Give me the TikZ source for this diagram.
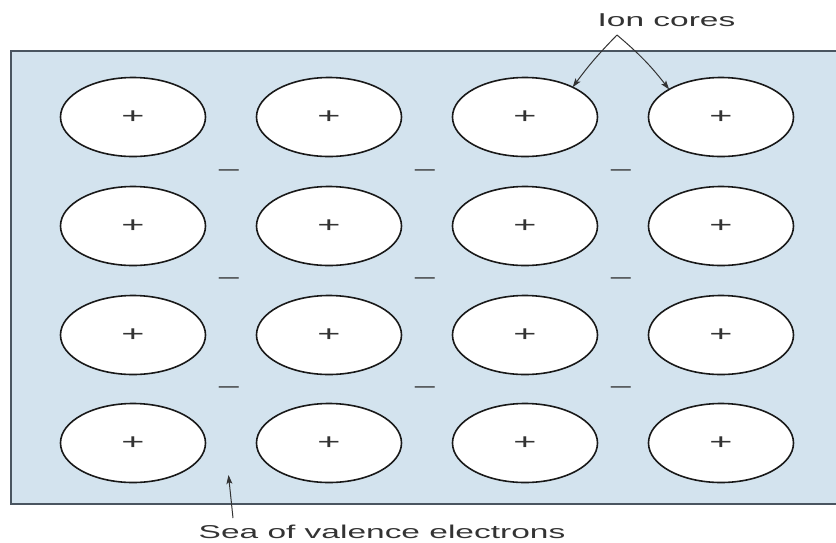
\documentclass[tikz,border=0pt]{standalone}
\usepackage{fontspec}
\usepackage{graphicx}
\setmainfont{Liberation Sans}
\usetikzlibrary{shapes.geometric,arrows.meta}
\definecolor{seablue}{HTML}{D3E3EE}
\definecolor{rimgray}{HTML}{4A5560}
\definecolor{txtgray}{HTML}{333333}
\tikzset{
  core/.style={ellipse,draw=black!90,line width=1.6pt,fill=white,
    minimum width=145pt,minimum height=79pt,inner sep=0pt,outer sep=0pt,
    font=\fontsize{22}{22}\selectfont,text=txtgray},
  minus/.style={inner sep=0pt,font=\fontsize{20}{20}\selectfont,text=txtgray},
  label/.style={inner sep=0pt,anchor=base,font=\fontsize{18.6}{20}\selectfont,text=txtgray},
  pointer/.style={draw=txtgray,line width=1pt,-{Stealth[length=9pt,width=6pt,inset=2pt]}}
}
\newcommand{\wide}[1]{\scalebox{1.8}[1]{#1}}
\begin{document}
\begin{tikzpicture}[x=1pt,y=-1pt]
\useasboundingbox (0,0) rectangle (836,542);
\fill[white] (0,0) rectangle (836,542);
\fill[seablue] (11,50.5) rectangle (845,503.5);
\draw[rimgray,line width=2pt] (845,50.5) -- (11,50.5) -- (11,503.5) -- (845,503.5);
% ion cores
\foreach \r/\yy in {1/117,2/226,3/335,4/443}{
  \foreach \c/\xx in {1/133,2/329,3/525,4/721}{
    \node[core] (c\r\c) at (\xx,\yy) {\wide{+}};
  }
}
% electrons
\foreach \r/\yy in {1/172.5,2/281,3/390}{
  \foreach \c/\xx in {1/229,2/425,3/621}{
    \node[minus] (m\r\c) at (\xx,\yy) {\wide{–}};
  }
}
% labels
\node[label] (ion) at (666.5,26) {\wide{Ion cores}};
\coordinate (apex) at (617,35);
\draw[pointer] (apex) to[bend right=4] (c13.32);
\draw[pointer] (apex) to[bend left=6] (c14.152.6);
\node[label] (sea) at (382,538) {\wide{Sea of valence electrons}};
\coordinate (seatail) at (233,518);
\coordinate (seatip) at (228.5,475);
\draw[pointer] (seatail) -- (seatip);
\end{tikzpicture}
\end{document}
